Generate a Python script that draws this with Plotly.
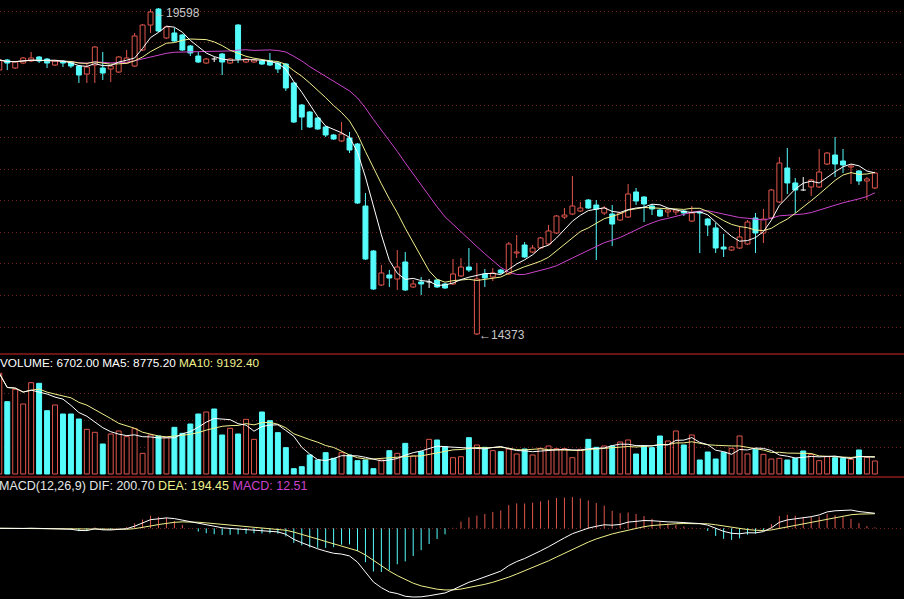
import plotly.graph_objects as go
import pandas as pd

# ---------------- data ----------------
opens = [18607, 18767, 18639, 18719, 18751, 18815, 18783, 18687, 18751, 18735,
         18671, 18543, 18687, 18639, 18623, 18575, 18719, 18671, 18927, 19326,
         19582, 19119, 19199, 19167, 18991, 18831, 18719, 18783, 18863, 18719,
         19326, 18735, 18735, 18751, 18751, 18719, 18703, 18400, 18048, 17936,
         17840, 17697, 17569, 17473, 17521, 17425, 16434, 15715, 15172, 15332,
         15268, 15539, 15140, 15220, 15220, 15252, 15188, 15188, 15316, 15459,
         14389, 15348, 15300, 15411, 15348, 15683, 15811, 15699, 15763, 15827,
         16003, 16258, 16306, 16354, 16530, 16450, 16322, 16306, 16210, 16258,
         16658, 16578, 16434, 16370, 16338, 16338, 16354, 16194, 16338, 16226,
         16083, 15779, 15731, 15763, 15827, 16242, 16003, 16242, 16498, 17041,
         16802, 16690, 16738, 16738, 17105, 17249, 17153, 17057, 16993, 16834,
         16722]
highs = [18783, 18783, 18751, 18815, 18895, 18831, 18799, 18767, 18767, 18751,
         18687, 18719, 18991, 18895, 18687, 18831, 18927, 19199, 19342, 19582,
         19598, 19311, 19279, 19183, 19007, 18895, 18799, 18815, 18879, 18799,
         19342, 18799, 18783, 18767, 18879, 18735, 18719, 18416, 18064, 17952,
         17856, 17713, 17585, 17776, 17617, 17441, 16642, 15731, 15491, 15412,
         15731, 15699, 15252, 15300, 15268, 15268, 15204, 15587, 15603, 15763,
         15523, 15427, 15443, 15427, 15859, 15971, 15859, 15811, 15939, 16131,
         16290, 16402, 16914, 16498, 16546, 16530, 16434, 16450, 16338, 16786,
         16722, 16594, 16466, 16386, 16386, 16386, 16370, 16434, 16354, 16242,
         16162, 15987, 15795, 16115, 16210, 16322, 16386, 16706, 17217, 17361,
         16882, 16898, 16866, 17345, 17297, 17537, 17345, 17105, 17009, 16898,
         16977]
lows = [18575, 18607, 18623, 18703, 18735, 18719, 18639, 18671, 18655, 18639,
        18400, 18400, 18400, 18448, 18416, 18559, 18703, 18655, 18911, 19199,
        19215, 19103, 19055, 18911, 18831, 18719, 18703, 18735, 18527, 18703,
        18719, 18719, 18719, 18687, 18671, 18559, 18272, 17760, 17649, 17681,
        17649, 17537, 17489, 17457, 17281, 16466, 15571, 15092, 15156, 15140,
        15092, 15076, 15124, 15012, 15124, 15124, 15108, 15172, 15300, 15379,
        14373, 15140, 15236, 15348, 15332, 15603, 15603, 15683, 15747, 15811,
        15987, 16226, 16290, 16338, 16386, 15571, 16290, 15795, 16194, 16242,
        16450, 16178, 16290, 16258, 16258, 16290, 16274, 16178, 15683, 15955,
        15683, 15619, 15715, 15747, 15811, 15683, 15843, 16226, 16482, 16626,
        16322, 16674, 16594, 16722, 17089, 16898, 16961, 16786, 16770, 16530,
        16706]
closes = [18767, 18719, 18735, 18799, 18799, 18751, 18719, 18751, 18719, 18671,
          18527, 18655, 18975, 18559, 18671, 18815, 18799, 19151, 19326, 19534,
          19231, 19295, 19071, 18927, 18879, 18735, 18783, 18783, 18735, 18783,
          18783, 18783, 18767, 18703, 18687, 18623, 18320, 17776, 17856, 17697,
          17665, 17569, 17505, 17585, 17329, 16482, 15587, 15108, 15364, 15284,
          15459, 15092, 15188, 15188, 15220, 15140, 15124, 15348, 15459, 15411,
          15268, 15284, 15364, 15364, 15827, 15699, 15619, 15763, 15923, 16035,
          16274, 16290, 16434, 16402, 16402, 16386, 16402, 16146, 16322, 16626,
          16514, 16466, 16386, 16274, 16370, 16370, 16322, 16322, 16322, 16130,
          15763, 15747, 15779, 15939, 16178, 16003, 16226, 16690, 17121, 16802,
          16690, 16690, 16850, 16977, 17281, 17105, 17089, 17073, 16834, 16866,
          16961]
opens[101] = 16690
volumes = [51860, 37240, 43620, 36050, 47020, 46710, 32600, 35540, 30900, 30900,
           28330, 23020, 21470, 15450, 20600, 22150, 19230, 23350, 10640, 20090,
           19570, 18880, 24030, 20940, 25750, 30900, 31930, 33480, 20090, 23520,
           20600, 28150, 17850, 31930, 27470, 21290, 13560, 2750, 3780, 9790,
           7210, 10990, 8070, 10990, 9790, 6870, 7210, 2750, 7210, 12020,
           10640, 15790, 9270, 11500, 17850, 17510, 14080, 8400, 8910, 18700,
           14940, 13730, 12020, 11500, 12880, 10300, 12880, 9790, 13220, 14420,
           13050, 13050, 8400, 12700, 17850, 13730, 14420, 14420, 16480, 17510,
           10300, 14420, 13560, 19570, 16990, 22150, 14940, 20090, 7210, 11330,
           7730, 11160, 13220, 19570, 10300, 12700, 10130, 7730, 8070, 7210,
           8070, 11850, 10130, 6870, 8910, 8400, 8070, 7550, 12360, 8580,
           6702]

vol_label = "VOLUME: 6702.00 MA5: 8775.20 "
vol_label2 = "MA10: 9192.40"
macd_label = "MACD(12,26,9) DIF: 200.70 "
macd_label2 = "DEA: 194.45"
macd_label3 = "MACD: 12.51"

# ---------------- styles ----------------
RED = '#e0564c'
CYAN = '#55fcfc'
WHITE = '#ffffff'
YELLOW = '#f0f08c'
MAGENTA = '#cc44cc'
GRID = '#7a1e1e'
BORDER = '#8c1c1c'

n = len(closes)
idx = list(range(n))
c = pd.Series(closes, dtype=float)
ma5 = c.rolling(5, min_periods=1).mean()
ma10 = c.rolling(10, min_periods=1).mean()
ma20 = c.rolling(20, min_periods=1).mean()
v = pd.Series(volumes, dtype=float)
vma5 = v.rolling(5, min_periods=1).mean()
vma10 = v.rolling(10, min_periods=1).mean()
ema12 = c.ewm(span=12, adjust=False).mean()
ema26 = c.ewm(span=26, adjust=False).mean()
dif = ema12 - ema26
dea = dif.ewm(span=9, adjust=False).mean()
hist = 2 * (dif - dea)

up = [i for i in idx if closes[i] > opens[i]]
down = [i for i in idx if closes[i] < opens[i]]
doji = [i for i in idx if closes[i] == opens[i]]

fig = go.Figure()


def body(ids, fill, line):
    return go.Bar(x=ids, y=[abs(closes[i] - opens[i]) for i in ids],
                  base=[min(opens[i], closes[i]) for i in ids], width=0.62,
                  marker=dict(color=fill, line=dict(color=line, width=1)),
                  xaxis='x', yaxis='y', hoverinfo='skip')


def wicks(ids):
    xs, ys = [], []
    for i in ids:
        top = max(opens[i], closes[i])
        bot = min(opens[i], closes[i])
        xs += [i, i, None, i, i, None]
        ys += [highs[i], top, None, bot, lows[i], None]
    return xs, ys


fig.add_trace(body(up, '#000000', RED))
fig.add_trace(body(down, CYAN, CYAN))
for ids, col in ((up, RED), (down, CYAN), (doji, WHITE)):
    xs, ys = wicks(ids)
    fig.add_trace(go.Scatter(x=xs, y=ys, mode='lines', line=dict(color=col, width=1),
                             xaxis='x', yaxis='y', hoverinfo='skip'))
dx, dy = [], []
for i in doji:
    dx += [i - 0.33, i + 0.33, None]
    dy += [opens[i], opens[i], None]
fig.add_trace(go.Scatter(x=dx, y=dy, mode='lines', line=dict(color=WHITE, width=1),
                         xaxis='x', yaxis='y', hoverinfo='skip'))

for s, col in ((ma20, MAGENTA), (ma10, YELLOW), (ma5, WHITE)):
    fig.add_trace(go.Scatter(x=idx, y=s, mode='lines', line=dict(color=col, width=1),
                             xaxis='x', yaxis='y', hoverinfo='skip'))

# volume
vup = [i for i in idx if closes[i] > opens[i] or (closes[i] == opens[i] and i > 0 and closes[i] > closes[i - 1])]
vdn = [i for i in idx if i not in vup]
fig.add_trace(go.Bar(x=vup, y=[volumes[i] for i in vup], width=0.62,
                     marker=dict(color='#000000', line=dict(color=RED, width=1)),
                     xaxis='x2', yaxis='y2', hoverinfo='skip'))
fig.add_trace(go.Bar(x=vdn, y=[volumes[i] for i in vdn], width=0.62,
                     marker=dict(color=CYAN, line=dict(color=CYAN, width=1)),
                     xaxis='x2', yaxis='y2', hoverinfo='skip'))
for s, col in ((vma10, YELLOW), (vma5, WHITE)):
    fig.add_trace(go.Scatter(x=idx, y=s, mode='lines', line=dict(color=col, width=1),
                             xaxis='x2', yaxis='y2', hoverinfo='skip'))

# MACD
hx_p, hy_p, hx_n, hy_n = [], [], [], []
for i in idx:
    if hist[i] >= 0:
        hx_p += [i, i, None]; hy_p += [0, hist[i], None]
    else:
        hx_n += [i, i, None]; hy_n += [0, hist[i], None]
fig.add_trace(go.Scatter(x=hx_p, y=hy_p, mode='lines', line=dict(color=RED, width=1),
                         xaxis='x3', yaxis='y3', hoverinfo='skip'))
fig.add_trace(go.Scatter(x=hx_n, y=hy_n, mode='lines', line=dict(color=CYAN, width=1),
                         xaxis='x3', yaxis='y3', hoverinfo='skip'))
fig.add_trace(go.Scatter(x=idx, y=dea, mode='lines', line=dict(color=YELLOW, width=1),
                         xaxis='x3', yaxis='y3', hoverinfo='skip'))
fig.add_trace(go.Scatter(x=idx, y=dif, mode='lines', line=dict(color=WHITE, width=1),
                         xaxis='x3', yaxis='y3', hoverinfo='skip'))

xr = [0.088, 113.66]
xcommon = dict(range=xr, showgrid=False, zeroline=False, showticklabels=False,
               ticks='', showline=False, fixedrange=True)
gridstyle = dict(showgrid=True, gridcolor=GRID, griddash='1px,3px', gridwidth=1,
                 zeroline=False, showticklabels=False, ticks='', showline=False,
                 fixedrange=True)

hi = max(highs)
lo = min(lows)
hi_i = highs.index(hi)
lo_i = lows.index(lo)

fig.update_layout(
    width=904, height=599, margin=dict(l=0, r=0, t=0, b=0),
    paper_bgcolor='#000000', plot_bgcolor='#000000', showlegend=False,
    barmode='overlay', bargap=0, hovermode=False,
    font=dict(family='Liberation Sans, Arial, sans-serif', color=WHITE, size=11),
    xaxis=dict(domain=[0, 1], anchor='y', **xcommon),
    xaxis2=dict(domain=[0, 1], anchor='y2', matches='x', **xcommon),
    xaxis3=dict(domain=[0, 1], anchor='y3', matches='x', **xcommon),
    yaxis=dict(domain=[0.41068, 1], range=[14085, 19726], tick0=19549, dtick=505, **gridstyle),
    yaxis2=dict(domain=[0.20367, 0.40735], range=[-1545, 61285],
                tickvals=[13900, 27800, 41700], **gridstyle),
    yaxis3=dict(domain=[0, 0.202], range=[-947, 674], tickvals=[0], **gridstyle),
    shapes=[
        dict(type='line', xref='paper', yref='paper', x0=0, x1=1, y0=0.40902, y1=0.40902,
             line=dict(color=BORDER, width=1.5)),
        dict(type='line', xref='paper', yref='paper', x0=0, x1=1, y0=0.20367, y1=0.20367,
             line=dict(color=BORDER, width=1.5)),
    ],
    annotations=[
        dict(xref='paper', yref='paper', x=-0.0025, y=0.394, xanchor='left', yanchor='middle',
             showarrow=False, font=dict(size=11.8, color=WHITE),
             text=vol_label + f"<span style='color:{YELLOW}'>{vol_label2}</span>"),
        dict(xref='paper', yref='paper', x=-0.003, y=0.1886, xanchor='left', yanchor='middle',
             showarrow=False, font=dict(size=12.5, color='#e6e6e6'),
             text=macd_label + f"<span style='color:{YELLOW}'>{macd_label2}</span> "
                  + f"<span style='color:{MAGENTA}'>{macd_label3}</span>"),
        dict(xref='x', yref='y', x=hi_i - 0.82, y=hi - 80, xanchor='left', yanchor='middle',
             showarrow=False, font=dict(size=12, color='#c8c8c8'), text=f"←{hi}"),
        dict(xref='x', yref='y', x=lo_i, y=lo, xanchor='left', yanchor='middle',
             showarrow=False, font=dict(size=12, color='#c8c8c8'), text=f"←{lo}"),
    ],
)

fig.write_html(
    "out.html",
    config={'displayModeBar': False, 'staticPlot': True},
    post_script="document.body.style.margin='0';document.body.style.padding='0';"
                "document.body.style.background='#000';document.body.style.overflow='hidden';",
)
